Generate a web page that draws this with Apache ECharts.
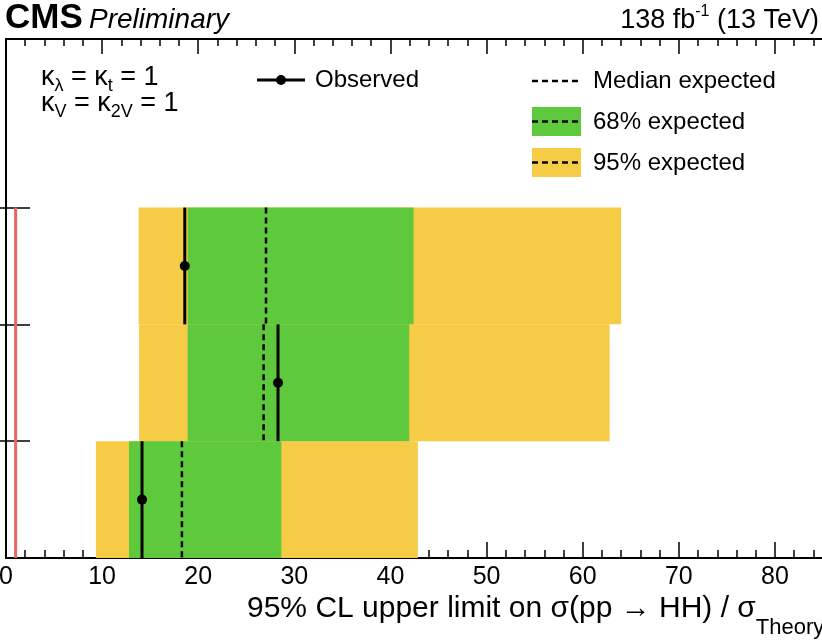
<!DOCTYPE html>
<html>
<head>
<meta charset="utf-8">
<script src="https://cdn.jsdelivr.net/npm/echarts@6/dist/echarts.min.js"></script>
<style>
  html, body { margin: 0; padding: 0; background: #fff; }
  #chart { width: 822px; height: 644px; }
</style>
</head>
<body>
<div id="chart"></div>
<script>
// rows from bottom to top (one per channel, unlabeled in the plot)
const rowIndex = [0, 1, 2];
const observed = [14.15, 28.3, 18.6];
const median = [18.3, 26.8, 27.05];
const band68Lo = [12.8, 18.9, 18.9];
const band68Hi = [28.65, 41.95, 42.4];
const band95Lo = [9.35, 13.85, 13.8];
const band95Hi = [42.85, 62.8, 64.0];
const smValue = 1;
const smRowSpan = [0, 3];
const xTicksMajor = 10;
const xTicksMinor = 2;

const FONT = '"Liberation Sans", Arial, Helvetica, sans-serif';
const GREEN = '#5ec93c';
const YELLOW = '#f6cc47';
const RED = '#ea6461';

const chart = echarts.init(document.getElementById('chart'), null, { renderer: 'canvas' });

// band rectangle spanning one row
function bandItem(params, api) {
  const row = api.value(0);
  const p1 = api.coord([api.value(1), row + 1]);
  const p2 = api.coord([api.value(2), row]);
  return {
    type: 'rect',
    shape: { x: p1[0], y: p1[1], width: p2[0] - p1[0], height: p2[1] - p1[1] },
    style: { fill: api.visual('color') }
  };
}

function medianItem(params, api) {
  const row = api.value(0);
  const top = api.coord([api.value(1), row + 1]);
  const bot = api.coord([api.value(1), row]);
  return {
    type: 'line',
    shape: { x1: top[0], y1: top[1], x2: bot[0], y2: bot[1] },
    style: { stroke: '#000', lineWidth: 2.5, lineDash: [6, 4] }
  };
}

function observedItem(params, api) {
  const row = api.value(0);
  const top = api.coord([api.value(1), row + 1]);
  const bot = api.coord([api.value(1), row]);
  const mid = api.coord([api.value(1), row + 0.5]);
  return {
    type: 'group',
    children: [
      { type: 'line', shape: { x1: top[0], y1: top[1], x2: bot[0], y2: bot[1] },
        style: { stroke: '#000', lineWidth: 3 } },
      { type: 'circle', shape: { cx: mid[0], cy: mid[1], r: 5 }, style: { fill: '#000' } }
    ]
  };
}

const xBase = {
  type: 'value', min: 0, max: 85,
  axisLine: { show: true, lineStyle: { color: '#000', width: 2 } },
  splitLine: { show: false },
  axisLabel: { show: false }
};
const yBase = {
  type: 'value', min: 0, max: 4.443,
  axisLine: { show: true, lineStyle: { color: '#000', width: 2 } },
  splitLine: { show: false },
  axisLabel: { show: false },
  axisTick: { show: true, inside: true, length: 24, customValues: [1, 2, 3], lineStyle: { color: '#000', width: 1.5 } }
};

const rich = {
  m: { fontSize: 27, lineHeight: 35, fontFamily: FONT, color: '#000' },
  s: { fontSize: 18, lineHeight: 18, verticalAlign: 'bottom', fontFamily: FONT, color: '#000' }
};

const option = {
  animation: false,
  backgroundColor: '#fff',
  textStyle: { fontFamily: FONT },
  grid: { left: 6, top: 39, width: 817, height: 519, containLabel: false, outerBoundsMode: 'none' },
  xAxis: [
    Object.assign({}, xBase, {
      position: 'bottom', interval: xTicksMajor,
      axisTick: { show: true, inside: true, length: 16, lineStyle: { color: '#000', width: 1.5 } },
      axisLabel: { show: true, showMaxLabel: false, fontSize: 25, color: '#000', margin: 7, fontFamily: FONT }
    }),
    Object.assign({}, xBase, {
      position: 'bottom', interval: xTicksMinor,
      axisTick: { show: true, inside: true, length: 8, lineStyle: { color: '#000', width: 1.5 } }
    }),
    Object.assign({}, xBase, {
      position: 'top', interval: xTicksMajor,
      axisTick: { show: true, inside: true, length: 15, lineStyle: { color: '#000', width: 1.5 } }
    }),
    Object.assign({}, xBase, {
      position: 'top', interval: xTicksMinor,
      axisTick: { show: true, inside: true, length: 7, lineStyle: { color: '#000', width: 1.5 } }
    })
  ],
  yAxis: [
    Object.assign({}, yBase, { position: 'left' }),
    Object.assign({}, yBase, { position: 'right' })
  ],
  series: [
    {
      type: 'custom', name: '95% expected', renderItem: bandItem, itemStyle: { color: YELLOW },
      encode: { x: [1, 2], y: 0 }, z: 1,
      data: rowIndex.map((r, i) => [r, band95Lo[i], band95Hi[i]])
    },
    {
      type: 'custom', name: '68% expected', renderItem: bandItem, itemStyle: { color: GREEN },
      encode: { x: [1, 2], y: 0 }, z: 2,
      data: rowIndex.map((r, i) => [r, band68Lo[i], band68Hi[i]])
    },
    {
      type: 'custom', name: 'Median expected', renderItem: medianItem,
      encode: { x: 1, y: 0 }, z: 3,
      data: rowIndex.map((r, i) => [r, median[i]])
    },
    {
      type: 'custom', name: 'Observed', renderItem: observedItem,
      encode: { x: 1, y: 0 }, z: 4,
      data: rowIndex.map((r, i) => [r, observed[i]])
    },
    {
      type: 'line', name: 'SM', symbol: 'none', z: 5,
      lineStyle: { color: RED, width: 3 },
      data: smRowSpan.map(y => [smValue, y])
    }
  ],
  graphic: [
    // header
    { type: 'text', left: 5, top: 1, style: { text: 'CMS', font: 'bold 35px ' + FONT, fill: '#000' } },
    { type: 'text', left: 89, top: 6, style: { text: 'Preliminary', font: 'italic 28px ' + FONT, fill: '#000' } },
    {
      type: 'text', right: 3, top: 4,
      style: {
        text: '{m|138 fb}{u|-1}{m| (13 TeV)}', align: 'right',
        rich: {
          m: { fontSize: 27, lineHeight: 34, fontFamily: FONT, color: '#000' },
          u: { fontSize: 16, lineHeight: 16, verticalAlign: 'top', fontFamily: FONT, color: '#000' }
        }
      }
    },
    // coupling annotations
    { type: 'text', x: 41, y: 78, style: { text: '{m|κ}{s|λ}{m| = κ}{s|t}{m| = 1}', rich: rich, verticalAlign: 'middle' } },
    { type: 'text', x: 41, y: 104, style: { text: '{m|κ}{s|V}{m| = κ}{s|2V}{m| = 1}', rich: rich, verticalAlign: 'middle' } },
    // legend: observed
    { type: 'line', shape: { x1: 257, y1: 80, x2: 305, y2: 80 }, style: { stroke: '#000', lineWidth: 3 } },
    { type: 'circle', shape: { cx: 281, cy: 80, r: 5 }, style: { fill: '#000' } },
    { type: 'text', x: 315, y: 80, style: { text: 'Observed', font: '24px ' + FONT, fill: '#000', verticalAlign: 'middle' } },
    // legend: median
    { type: 'line', shape: { x1: 532, y1: 81, x2: 581, y2: 81 }, style: { stroke: '#000', lineWidth: 2.5, lineDash: [6, 4] } },
    { type: 'text', x: 593, y: 81, style: { text: 'Median expected', font: '24px ' + FONT, fill: '#000', verticalAlign: 'middle' } },
    // legend: 68%
    { type: 'rect', shape: { x: 532, y: 107, width: 49, height: 29 }, style: { fill: GREEN } },
    { type: 'line', shape: { x1: 532, y1: 121.5, x2: 581, y2: 121.5 }, style: { stroke: '#000', lineWidth: 2.5, lineDash: [6, 4] } },
    { type: 'text', x: 593, y: 122, style: { text: '68% expected', font: '24px ' + FONT, fill: '#000', verticalAlign: 'middle' } },
    // legend: 95%
    { type: 'rect', shape: { x: 532, y: 148, width: 49, height: 29 }, style: { fill: YELLOW } },
    { type: 'line', shape: { x1: 532, y1: 162.5, x2: 581, y2: 162.5 }, style: { stroke: '#000', lineWidth: 2.5, lineDash: [6, 4] } },
    { type: 'text', x: 593, y: 163, style: { text: '95% expected', font: '24px ' + FONT, fill: '#000', verticalAlign: 'middle' } },
    // x axis title
    {
      type: 'text', x: 247, y: 609,
      style: {
        text: '{m|95% CL upper limit on σ(pp → HH) / σ}{s|Theory}', verticalAlign: 'middle',
        rich: {
          m: { fontSize: 30, lineHeight: 60, fontFamily: FONT, color: '#000' },
          s: { fontSize: 22, lineHeight: 22, verticalAlign: 'bottom', fontFamily: FONT, color: '#000' }
        }
      }
    }
  ]
};

chart.setOption(option);
</script>
</body>
</html>
